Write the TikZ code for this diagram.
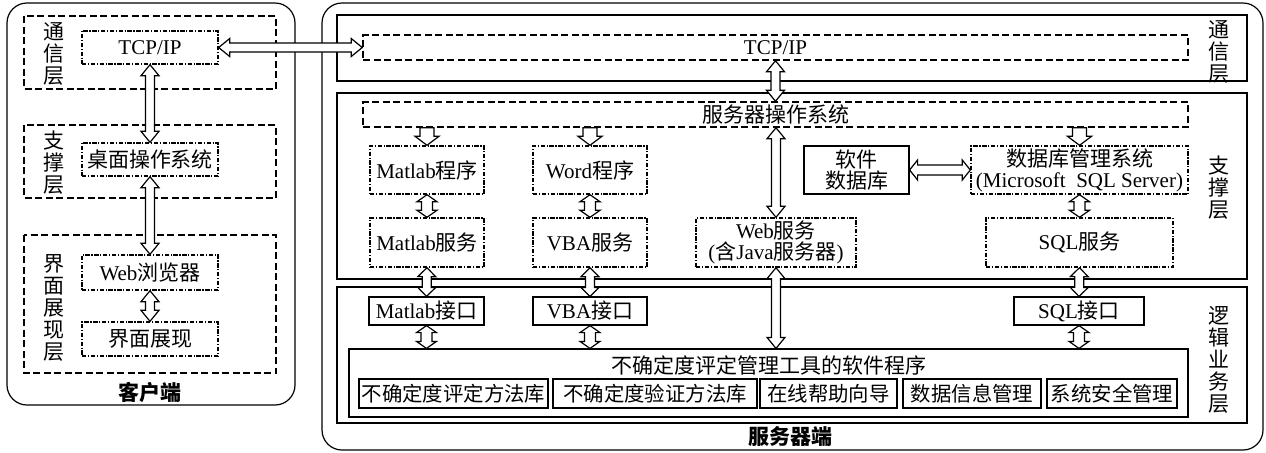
\documentclass[tikz,border=0pt]{standalone}
\usepackage{fontspec}
\setmainfont{Liberation Serif}
\newfontfamily\cjk{Noto Sans CJK SC}
\usepackage{tikz}
\usetikzlibrary{calc,positioning}
\newcommand{\zh}[1]{{\cjk #1}}
\tikzset{
  layerBox/.style={draw, line width=0.6pt},
  dashLayer/.style={draw, line width=0.75pt, dash pattern=on 3.5pt off 1.75pt},
  dashBox/.style={dashLayer, inner sep=0pt, minimum width=412.5pt, minimum height=12.5pt},
  dotBox/.style={draw, line width=0.7pt, dash pattern=on 2.2pt off 0.8pt on 0.6pt off 0.8pt, inner sep=0pt, align=center},
  solidBox/.style={draw, line width=0.6pt, inner sep=0pt, align=center},
  subBox/.style={solidBox, minimum height=14.5pt, font=\cjk\fontsize{10.2}{12}\selectfont},
  twoLine/.style={font=\fontsize{10.5}{10.5}\selectfont},
  vLabel/.style={align=center, inner sep=0pt, font=\cjk\fontsize{10.5}{11}\selectfont},
  endLabel/.style={inner sep=0pt, font=\cjk\bfseries\fontsize{10.5}{12}\selectfont},
  % hollow arrow, heads at both ends: head length / shaft half / head half
  twoWay/.style n args={3}{draw, fill=white, line width=0.6pt, line join=miter, to path={
    -- ($(\tikztostart)!#1!(\tikztotarget)!#3!90:(\tikztotarget)$)
    -- ($(\tikztostart)!#1!(\tikztotarget)!#2!90:(\tikztotarget)$)
    -- ($(\tikztotarget)!#1!(\tikztostart)!#2!-90:(\tikztostart)$)
    -- ($(\tikztotarget)!#1!(\tikztostart)!#3!-90:(\tikztostart)$)
    -- (\tikztotarget)
    -- ($(\tikztotarget)!#1!(\tikztostart)!#3!90:(\tikztostart)$)
    -- ($(\tikztotarget)!#1!(\tikztostart)!#2!90:(\tikztostart)$)
    -- ($(\tikztostart)!#1!(\tikztotarget)!#2!-90:(\tikztotarget)$)
    -- ($(\tikztostart)!#1!(\tikztotarget)!#3!-90:(\tikztotarget)$)
    -- cycle}},
  % hollow arrow, head at target only
  oneWay/.style n args={3}{draw, fill=white, line width=0.6pt, line join=miter, to path={
    -- ($(\tikztostart)!#2!90:(\tikztotarget)$)
    -- ($(\tikztotarget)!#1!(\tikztostart)!#2!-90:(\tikztostart)$)
    -- ($(\tikztotarget)!#1!(\tikztostart)!#3!-90:(\tikztostart)$)
    -- (\tikztotarget)
    -- ($(\tikztotarget)!#1!(\tikztostart)!#3!90:(\tikztostart)$)
    -- ($(\tikztotarget)!#1!(\tikztostart)!#2!90:(\tikztostart)$)
    -- ($(\tikztostart)!#2!-90:(\tikztotarget)$)
    -- cycle}},
  bigArrow/.style={twoWay={5.5pt}{2.25pt}{4.5pt}},
  midArrow/.style={twoWay={4.5pt}{2.25pt}{4.5pt}},
  smallArrow/.style={twoWay={3.5pt}{2.75pt}{5pt}},
  sideArrow/.style={twoWay={4pt}{2.5pt}{5pt}},
  downArrow/.style={oneWay={4.5pt}{3.5pt}{6pt}}
}

\begin{document}
\begin{tikzpicture}[x=0.5pt, y=-0.5pt, font=\fontsize{10.5}{12.5}\selectfont]
  \useasboundingbox (0,0) rectangle (1266,452);
  % client side
  \draw[layerBox, rounded corners=10pt] (7,3) rectangle (295,405);
  \draw[dashLayer] (24,16) rectangle (276,89);
  \draw[dashLayer] (24,125) rectangle (276,198);
  \draw[dashLayer] (24,235) rectangle (276,373);
  \node[vLabel] (cComLab) at (54,54) {通\\信\\层};
  \node[vLabel] (cSupLab) at (54,163) {支\\撑\\层};
  \node[vLabel] (cUiLab) at (54,308) {界\\面\\展\\现\\层};
  \node[dotBox, minimum width=68pt, minimum height=16.5pt] (cTcp) at (150,47.5) {TCP/IP};
  \node[dotBox, minimum width=68pt, minimum height=16.5pt] (cDesk) at (150,159.5) {\zh{桌面操作系统}};
  \node[dotBox, minimum width=68pt, minimum height=17.5pt] (cWeb) at (150,272.5) {Web\zh{浏览器}};
  \node[dotBox, minimum width=68pt, minimum height=17pt] (cUi) at (150,339) {\zh{界面展现}};
  \node[endLabel] (cEnd) at (150,392) {客户端};
  \draw[bigArrow] (cTcp.south) to (cDesk.north);
  \draw[bigArrow] (cDesk.south) to (cWeb.north);
  \draw[bigArrow] (cWeb.south) to (cUi.north);

  % server side
  \draw[layerBox, rounded corners=10pt] (322,3) rectangle (1263,450);
  \draw[layerBox] (337,15) rectangle (1247,81);
  \draw[layerBox] (337,93) rectangle (1247,279);
  \draw[layerBox] (337,287) rectangle (1247,423);
  \node[vLabel] (sComLab) at (1219,52) {通\\信\\层};
  \node[vLabel] (sSupLab) at (1219,188) {支\\撑\\层};
  \node[vLabel] (sLogLab) at (1219,360) {逻\\辑\\业\\务\\层};
  \node[endLabel] (sEnd) at (790,437) {服务器端};

  \node[dashBox] (sTcp) at (775.5,47.5) {TCP/IP};
  \node[dashBox] (sOs) at (775.5,114.5) {\zh{服务器操作系统}};
  \node[dotBox, minimum width=57pt, minimum height=24pt] (mProg) at (427,170) {Matlab\zh{程序}};
  \node[dotBox, minimum width=57pt, minimum height=24pt] (wProg) at (590,170) {Word\zh{程序}};
  \node[dotBox, minimum width=57pt, minimum height=24.5pt] (mSvc) at (427,242.5) {Matlab\zh{服务}};
  \node[dotBox, minimum width=57pt, minimum height=24.5pt] (vSvc) at (590,242.5) {VBA\zh{服务}};
  \node[dotBox, twoLine, minimum width=80pt, minimum height=24.5pt] (webSvc) at (776,242.5) {Web\zh{服务}\\(\zh{含}Java\zh{服务器})};
  \node[solidBox, twoLine, minimum width=52.5pt, minimum height=24pt] (sDb) at (856.5,170) {\zh{软件}\\\zh{数据库}};
  \node[dotBox, twoLine, minimum width=108.5pt, minimum height=24pt] (dbms) at (1079.5,170) {\zh{数据库管理系统}\\(Microsoft~ SQL Server)};
  \node[dotBox, minimum width=93.5pt, minimum height=24.5pt] (sqlSvc) at (1079.5,242.5) {SQL\zh{服务}};

  \node[solidBox, minimum width=57.5pt, minimum height=14pt] (mIf) at (426.5,311) {Matlab\zh{接口}};
  \node[solidBox, minimum width=57pt, minimum height=14pt] (vIf) at (590,311) {VBA\zh{接口}};
  \node[solidBox, minimum width=65pt, minimum height=14pt] (sqlIf) at (1079,311) {SQL\zh{接口}};
  \node[solidBox, minimum width=419.5pt, minimum height=34pt] (prog) at (768.5,383) {};
  \node[inner sep=0pt] (progTitle) at (768.5,365) {\zh{不确定度评定管理工具的软件程序}};
  \foreach \cx/\bw/\txt/\nm in {453.5/94.5/不确定度评定方法库/modA, 655/102/不确定度验证方法库/modB,
      828.5/68.5/在线帮助向导/modC, 972/69/数据信息管理/modD, 1112/65/系统安全管理/modE}{
    \node[subBox, minimum width=\bw pt] (\nm) at (\cx,393.5) {\txt};
  }

  % connectors
  \draw[bigArrow] (cTcp.east) to (sTcp.west);
  \draw[bigArrow] (sTcp.south) to (sOs.north);
  \draw[downArrow] (sOs.south -| mProg.north) to (mProg.north);
  \draw[downArrow] (sOs.south -| wProg.north) to (wProg.north);
  \draw[downArrow] (sOs.south -| dbms.north) to (dbms.north);
  \draw[bigArrow] (sOs.south -| webSvc.north) to (webSvc.north);
  \draw[smallArrow] (mProg.south) to (mSvc.north);
  \draw[smallArrow] (wProg.south) to (vSvc.north);
  \draw[smallArrow] (dbms.south) to (sqlSvc.north);
  \draw[sideArrow] (sDb.east) to (dbms.west);
  \draw[midArrow] (mSvc.south) to (mIf.north);
  \draw[midArrow] (vSvc.south) to (vIf.north);
  \draw[midArrow] (sqlSvc.south) to (sqlIf.north);
  \draw[bigArrow] (webSvc.south) to (webSvc.south |- prog.north);
  \draw[smallArrow] (mIf.south) to (mIf.south |- prog.north);
  \draw[smallArrow] (vIf.south) to (vIf.south |- prog.north);
  \draw[smallArrow] (sqlIf.south) to (sqlIf.south |- prog.north);
\end{tikzpicture}
\end{document}
